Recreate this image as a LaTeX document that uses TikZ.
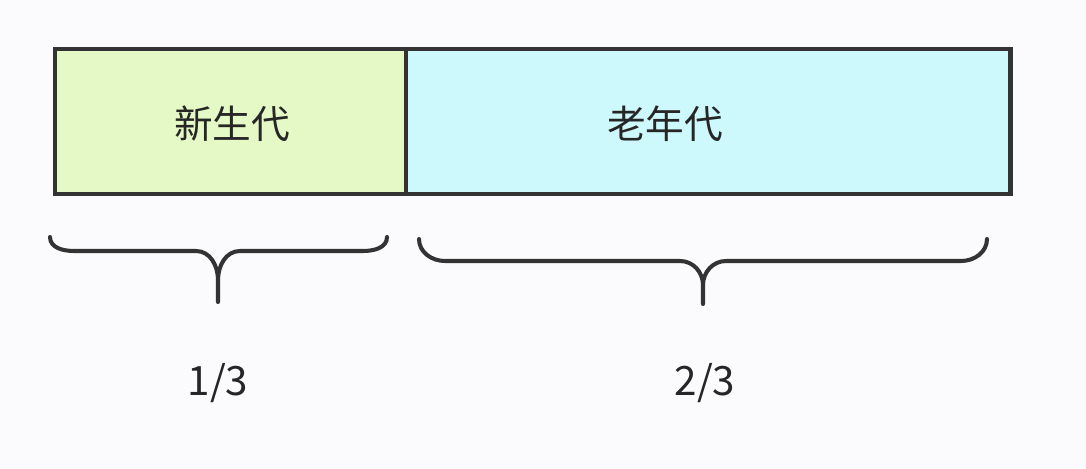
\documentclass[tikz,border=0pt]{standalone}
\usepackage{fontspec}
\newfontfamily\cjk{Noto Sans CJK SC}
\usepackage{tikz}
\definecolor{pagebg}{HTML}{FBFAFC}
\definecolor{edgegray}{HTML}{333333}
\definecolor{younggreen}{HTML}{E5F9C6}
\definecolor{oldblue}{HTML}{CDF8FC}
\tikzset{
  genbox/.style   = {shape=rectangle, draw=edgegray, line width=2.8pt,
                     inner sep=0pt, outer sep=0pt,
                     minimum height=2.9cm, font=\cjk\fontsize{22}{26}\selectfont},
  gentext/.style  = {font=\cjk\fontsize{22}{26}\selectfont, text=black!85},
  ratio/.style    = {font=\cjk\fontsize{23}{27}\selectfont, text=black!85},
  brace/.style    = {draw=edgegray, line width=2.3pt, line cap=round}
}

\begin{document}
\begin{tikzpicture}
  [
    x = 0.02cm,
    y = -0.02cm
  ]
  \fill[pagebg] (0,0) rectangle (1086,468);
  \useasboundingbox (0,0) rectangle (1086,468);
  % the two generations
  \node [genbox, fill=younggreen, minimum width=7.02cm] (young) at (230.5,121.5) {};
  \node [genbox, fill=oldblue, minimum width=12.1cm, anchor=west] (old) at (young.east) {};
  \draw [draw=edgegray, line width=2.8pt] (young.north east) -- (young.south east);
  \node [gentext] (younglabel) at (232,124) {新生代};
  \node [gentext] (oldlabel) at (665,124) {老年代};
  % braces
  \draw [brace] (50,237) to[out=-90,in=180] (74,251) -- (196,251)
                to[out=0,in=90] (218,280) -- (218,302);
  \draw [brace] (387,237) to[out=-90,in=0] (363,251) -- (240,251)
                to[out=180,in=90] (218,280);
  \draw [brace] (419,239) to[out=-90,in=180] (445,261) -- (680,261)
                to[out=0,in=90] (703,285) -- (703,304);
  \draw [brace] (987,239) to[out=-90,in=0] (961,261) -- (726,261)
                to[out=180,in=90] (703,285);
  % shares
  \node [ratio] (youngshare) at (218,383) {1/3};
  \node [ratio] (oldshare) at (705,383) {2/3};
\end{tikzpicture}
\end{document}
